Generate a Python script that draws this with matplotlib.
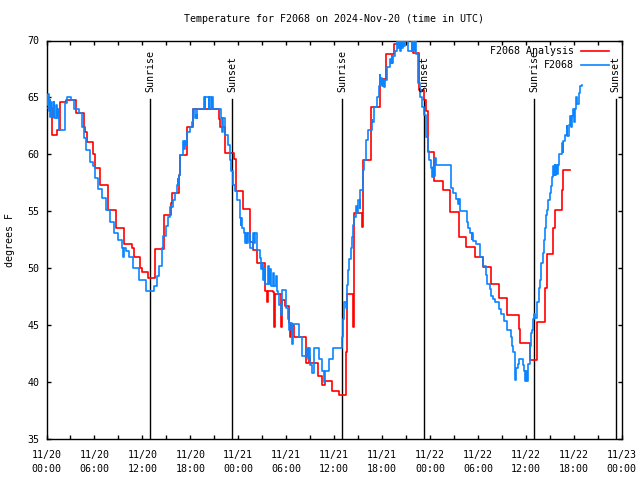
import matplotlib
matplotlib.use("Agg")
import matplotlib.pyplot as plt
import numpy as np

plt.rcParams['font.family'] = ['DejaVu Sans Mono']

title = "Temperature for F2068 on 2024-Nov-20 (time in UTC)"
ylabel = "degrees F"
series_names = ["F2068 Analysis", "F2068"]

# hours since 2024-11-20 00:00 UTC
red_h = [0.0, 0.66, 1.3, 1.75, 2.45, 3.7, 4.65, 4.8, 5.1, 5.8, 6.1, 6.7, 7.65, 8.7, 9.7,
         10.65, 10.9, 11.7, 11.9, 12.65, 13.6, 14.65, 15.6, 15.7, 16.6, 16.75, 17.6, 18.4,
         21.6, 21.75, 22.3, 23.5, 23.75, 24.6, 25.5, 25.9, 26.3, 27.4, 27.6, 27.7, 28.4,
         28.5, 28.6, 29.4, 29.5, 29.8, 30.4, 30.5, 30.6, 31.0, 32.5, 32.8, 33.0, 34.0, 34.5,
         34.8, 35.7, 36.6, 37.5, 37.6, 38.35, 38.45, 39.5, 39.6, 40.6, 41.7, 42.5, 43.5,
         44.3, 45.9, 46.6, 47.2, 47.5, 47.7, 47.8, 48.5, 49.6, 50.5, 51.6, 52.5, 53.6,
         54.6, 55.6, 56.6, 57.6, 59.2, 59.3, 60.5, 61.4, 62.4, 62.6, 63.4, 63.6, 64.5,
         64.6, 65.5]
red_v = [64.1, 61.7, 62.1, 64.6, 64.75, 63.6, 62.4, 62.0, 61.1, 60.0, 58.8, 57.3, 55.1, 53.5, 52.1,
         51.8, 51.0, 50.0, 49.7, 49.1, 51.7, 54.7, 55.7, 56.6, 58.2, 59.9, 62.4, 64.0,
         63.1, 62.4, 60.1, 59.6, 56.8, 55.2, 52.3, 51.6, 50.5, 48.0, 47.0, 48.0, 47.9,
         44.8, 47.7, 44.8, 47.2, 46.7, 45.2, 44.0, 45.0, 44.0, 41.7, 42.2, 41.7, 40.5, 39.7,
         40.1, 39.2, 38.85, 42.6, 47.7, 44.8, 54.85, 53.6, 59.5, 64.2, 66.6, 68.8, 69.7,
         70.0, 68.9, 65.65, 64.8, 63.8, 62.3, 60.2, 57.7, 56.9, 54.9, 52.7, 51.85, 51.0,
         50.1, 48.6, 47.4, 45.9, 44.7, 43.4, 41.9, 45.3, 48.3, 51.25, 53.5, 55.1, 56.9,
         58.6, 58.6]

blue_h = [0.0, 0.1, 0.2, 0.3, 0.4, 0.5, 0.6, 0.75, 0.9, 1.0, 1.15, 1.3, 1.45, 1.6, 2.3, 2.55,
          3.1, 3.4, 4.1, 4.4, 4.75, 4.95, 5.4, 5.8, 6.1, 6.4, 7.0, 7.45, 7.9, 8.5, 8.9, 9.5,
          9.6, 9.7, 9.9, 10.35, 10.8, 11.6, 12.4, 13.5, 13.8, 14.1, 14.4, 14.6, 14.9, 15.2,
          15.5, 15.8, 16.1, 16.3, 16.45, 16.5, 16.6, 16.7, 17.1, 17.2, 17.3, 17.4, 17.6, 17.9,
          18.2, 18.4, 18.6, 18.7, 18.8, 18.9, 19.7, 19.8, 19.9, 20.3, 20.4, 20.6, 20.7, 20.8,
          21.9, 22.0, 22.1, 22.3, 22.7, 23.0, 23.1, 23.3, 23.6, 23.9, 24.2, 24.3, 24.4, 24.5,
          24.7, 24.9, 25.0, 25.1, 25.2, 25.5, 25.8, 25.9, 26.0, 26.1, 26.3, 26.7, 26.9, 27.0,
          27.1, 27.25, 27.4, 27.7, 27.8, 28.0, 28.1, 28.3, 28.5, 28.7, 28.8, 29.0, 29.1, 29.3,
          29.5, 30.0, 30.2, 30.35, 30.5, 30.7, 30.9, 31.6, 32.0, 32.6, 32.75, 32.9, 33.0, 33.2,
          33.5, 34.1, 34.5, 34.7, 34.8, 35.4, 35.9, 37.0, 37.15, 37.3, 37.45, 37.6, 37.75, 37.9,
          38.1, 38.25, 38.4, 38.55, 38.7, 38.9, 39.0, 39.2, 39.3, 39.6, 39.8, 40.0, 40.3, 40.7,
          40.8, 41.0, 41.35, 41.6, 41.7, 41.8, 41.9, 42.0, 42.1, 42.3, 42.4, 42.6, 43.0, 43.1,
          43.2, 43.3, 43.4, 43.6, 43.9, 44.0, 44.1, 44.2, 44.35, 44.45, 44.6, 44.75, 44.9, 45.3,
          45.7, 45.8, 45.9, 46.0, 46.1, 46.3, 46.5, 46.75, 47.0, 47.3, 47.5, 47.7, 47.9, 48.1,
          48.3, 48.4, 48.5, 48.6, 48.7, 50.6, 50.9, 51.2, 51.5, 51.6, 51.7, 52.6, 52.8, 53.0,
          53.2, 53.3, 53.4, 53.7, 54.3, 54.7, 55.0, 55.2, 55.5, 55.7, 55.9, 56.2, 56.6, 56.9,
          57.3, 57.6, 58.1, 58.3, 58.45, 58.6, 58.7, 58.75, 59.0, 59.2, 59.6, 59.8, 59.9, 60.0,
          60.1, 60.3, 60.5, 60.65, 60.8, 60.9, 61.0, 61.2, 61.4, 61.6, 61.8, 61.95, 62.1, 62.25,
          62.4, 62.5, 62.6, 62.8, 63.0, 63.1, 63.25, 63.4, 63.5, 63.6, 63.7, 63.8, 63.9, 64.0,
          64.2, 64.5, 64.6, 64.7, 64.9, 65.1, 65.2, 65.35, 65.5, 65.6, 65.8, 65.9, 66.0, 66.1,
          66.3, 66.45, 66.6, 66.8, 67.0]
blue_v = [65.2, 64.3, 65.3, 63.8, 64.8, 63.3, 64.6, 63.3, 64.6, 63.2, 64.3, 63.2, 64.0, 62.1, 64.5, 65.0,
          64.75, 64.0, 63.6, 62.4, 61.4, 60.4, 59.35, 59.0, 57.9, 57.0, 56.2, 55.1, 54.1, 53.1, 52.5, 51.8,
          51.0, 51.8, 51.5, 51.0, 50.05, 49.0, 48.0, 48.4, 49.3, 50.2, 51.8, 52.8, 53.7, 54.5,
          55.4, 56.0, 56.6, 57.3, 57.8, 57.3, 58.2, 59.9, 61.2, 60.5, 61.2, 60.8, 62.0, 62.4,
          62.85, 64.0, 63.2, 63.5, 63.2, 64.0, 65.0, 64.0, 65.0, 64.0, 65.0, 64.0, 65.0, 64.0,
          63.2, 62.0, 63.2, 61.7, 60.8, 59.5, 58.5, 57.3, 56.8, 56.0, 54.4, 53.8, 54.4, 53.5,
          53.1, 52.2, 53.1, 52.2, 53.1, 51.8, 52.5, 53.1, 52.2, 53.1, 51.6, 50.9, 49.9, 50.5,
          49.0, 50.0, 48.6, 50.2, 48.6, 49.9, 48.4, 49.6, 48.4, 49.3, 48.0, 47.7, 46.8, 45.9,
          48.1, 46.5, 45.5, 44.6, 45.2, 43.3, 45.1, 44.0, 42.3, 43.0, 42.0, 43.0, 41.5, 40.8,
          43.0, 42.0, 41.0, 40.0, 41.0, 42.0, 43.0, 44.0, 45.5, 47.0, 46.5, 48.5, 49.8, 50.8,
          51.8, 52.7, 53.8, 54.5, 55.5, 54.9, 56.0, 55.3, 56.9, 58.6, 59.5, 61.25, 62.1, 63.0,
          62.8, 64.2, 65.0, 66.0, 67.0, 66.2, 66.7, 66.0, 66.5, 65.9, 66.5, 67.7, 68.4, 68.0,
          68.6, 68.0, 68.6, 69.1, 70.0, 69.3, 70.0, 69.1, 70.0, 69.3, 70.0, 69.5, 70.0, 69.1,
          70.0, 69.1, 70.0, 69.1, 70.0, 68.8, 66.3, 65.0, 64.2, 63.5, 61.5, 60.3, 59.5, 58.8,
          58.0, 58.9, 58.1, 59.7, 59.06, 57.05, 56.6, 56.05, 55.6, 56.05, 55.0, 54.1, 53.5, 53.1,
          52.6, 53.1, 52.4, 52.1, 51.0, 50.2, 49.4, 48.6, 48.2, 47.6, 47.3, 47.0, 46.4, 46.0,
          45.4, 44.6, 44.0, 43.2, 42.6, 41.7, 40.2, 41.2, 41.6, 42.0, 41.5, 41.0, 40.1, 41.0,
          40.1, 41.6, 43.2, 44.3, 44.6, 45.5, 46.0, 45.6, 47.0, 48.3, 49.0, 50.5, 51.3, 52.5,
          53.5, 54.7, 55.1, 56.0, 56.6, 57.2, 58.0, 59.0, 58.2, 59.06, 58.2, 59.06, 58.3, 59.06,
          60.0, 61.0, 60.2, 61.2, 61.7, 62.5, 61.6, 62.6, 63.4, 62.4, 63.4, 64.0, 62.8, 64.0,
          65.0, 64.4, 65.4, 66.0, 66.1]

sun_events_h = [13.0, 23.28, 37.02, 47.27, 61.03, 71.25]
sun_events_lbl = ["Sunrise", "Sunset", "Sunrise", "Sunset", "Sunrise", "Sunset"]

xtick_h = list(range(0, 73, 6))
xtick_lbl = ["11/20\n00:00", "11/20\n06:00", "11/20\n12:00", "11/20\n18:00",
             "11/21\n00:00", "11/21\n06:00", "11/21\n12:00", "11/21\n18:00",
             "11/22\n00:00", "11/22\n06:00", "11/22\n12:00", "11/22\n18:00",
             "11/23\n00:00"]
ytick_v = [35, 40, 45, 50, 55, 60, 65, 70]

FS = 7.2
fig = plt.figure(figsize=(6.4, 4.8), dpi=100)
L, R, T, B = 46.5, 621.7, 40.5, 439.0
ax = fig.add_axes([L / 640, 1 - B / 480, (R - L) / 640, (B - T) / 480])

ax.step(red_h, red_v, where='post', color='#ff0000', lw=1.2, label=series_names[0], zorder=3)
ax.step(blue_h, blue_v, where='post', color='#0a84ff', lw=1.2, label=series_names[1], zorder=4)

for h, lbl in zip(sun_events_h, sun_events_lbl):
    ax.axvline(h, ymin=0, ymax=0.852, color='black', lw=1.0, zorder=2)
    ax.text(h, 0.8715, lbl, transform=ax.get_xaxis_transform(), rotation=90,
            ha='center', va='bottom', fontsize=FS, zorder=5)

ax.set_xlim(0, 72)
ax.set_ylim(35, 70)
ax.set_xticks(xtick_h)
ax.set_xticklabels(xtick_lbl, fontsize=FS, linespacing=1.5)
ax.set_xticks(range(0, 73, 3), minor=True)
ax.set_yticks(ytick_v)
ax.set_yticklabels([str(v) for v in ytick_v], fontsize=FS)
ax.tick_params(which='both', direction='in', top=True, right=True, length=3, width=1)
ax.tick_params(axis='x', pad=8)
ax.tick_params(axis='y', pad=5)
for s in ax.spines.values():
    s.set_linewidth(1.0)

ax.set_title(title, fontsize=FS, pad=13)
ax.set_ylabel(ylabel, fontsize=FS)
ax.yaxis.set_label_coords(-(L - 15) / (R - L), 0.5)

leg = ax.legend(loc='upper right', bbox_to_anchor=(1 - 12.5 / (R - L), 1 - 5.5 / (B - T)),
                frameon=False, markerfirst=False, fontsize=FS, handlelength=2.8,
                handletextpad=0.7, labelspacing=0.4, borderpad=0, borderaxespad=0)

fig.savefig("out.png", dpi=100)
